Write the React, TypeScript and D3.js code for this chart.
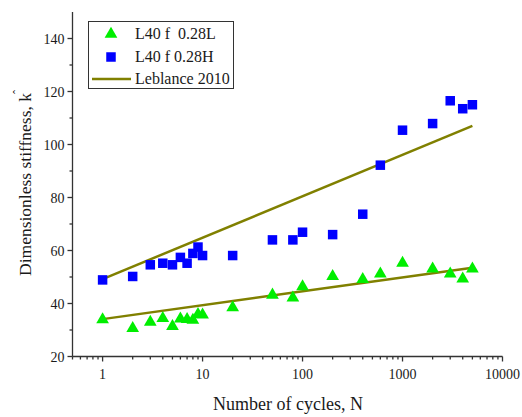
import React from "react";
import * as d3 from "d3";

// Number of cycles at which stiffness was measured
const cyclesL = [1, 2, 3, 4, 5, 6, 7, 8, 9, 10, 20, 50, 80, 100, 200, 400, 600, 1000, 2000, 3000, 4000, 5000];
const stiffnessL = [34.3, 31.0, 33.4, 34.8, 31.8, 34.6, 34.4, 34.1, 36.3, 36.1, 38.8, 43.6, 42.5, 46.8, 50.6, 49.5, 51.6, 55.6, 53.5, 51.6, 49.7, 53.5];

const cyclesH = [1, 2, 3, 4, 5, 6, 7, 8, 9, 10, 20, 50, 80, 100, 200, 400, 600, 1000, 2000, 3000, 4000, 5000];
const stiffnessH = [48.9, 50.2, 54.6, 55.2, 54.6, 57.4, 55.2, 58.9, 61.3, 58.1, 58.1, 64.0, 64.0, 66.9, 66.0, 73.7, 92.2, 105.4, 107.9, 116.5, 113.5, 115.0];

// Leblance 2010 trend lines (end points)
const leblanceN = [1, 5000];
const leblanceHigh = [49.2, 107.0];
const leblanceLow = [34.1, 53.5];

const xTickValues = [1, 10, 100, 1000, 10000];
const yTickValues = [20, 40, 60, 80, 100, 120, 140];

const legendLabels = ["L40 f  0.28L", "L40 f 0.28H", "Leblance 2010"];

const W = 522;
const H = 417;
const margin = { left: 72.5, top: 12, right: 19.5, bottom: 60.5 };

export default function App() {
  const x = d3.scaleLog().domain([0.5, 10000]).range([margin.left, W - margin.right]);
  const y = d3.scaleLinear().domain([20, 150]).range([H - margin.bottom, margin.top]);

  const x0 = margin.left;
  const y0 = H - margin.bottom;

  // minor ticks on the log axis: 2..9 within each decade
  const minorX: number[] = [];
  for (let d = 0.1; d < 10000; d *= 10) {
    for (let m = 2; m <= 9; m++) {
      const v = m * d;
      if (v >= 0.5 && v <= 10000 && !xTickValues.includes(v)) minorX.push(v);
    }
  }
  const minorY = d3.range(30, 150, 20);

  const line = d3
    .line<[number, number]>()
    .x((d) => x(d[0]))
    .y((d) => y(d[1]));

  const highLine = leblanceN.map((n, i) => [n, leblanceHigh[i]] as [number, number]);
  const lowLine = leblanceN.map((n, i) => [n, leblanceLow[i]] as [number, number]);

  const tri = d3.symbol().type(d3.symbolTriangle).size(70);
  const sq = 9.5;
  const font = "'Liberation Serif', 'Times New Roman', serif";

  return (
    <svg width={W} height={H} style={{ position: "absolute", left: 0, top: 0 }} fontFamily={font}>
      <rect x={0} y={0} width={W} height={H} fill="#fff" />

      {/* trend lines */}
      <path d={line(highLine) || ""} fill="none" stroke="#808000" strokeWidth={2.5} />
      <path d={line(lowLine) || ""} fill="none" stroke="#808000" strokeWidth={2.5} />

      {/* low-amplitude series */}
      {cyclesL.map((n, i) => (
        <path
          key={"l" + i}
          d={tri() || ""}
          transform={`translate(${x(n)},${y(stiffnessL[i]) + 1})`}
          fill="#00ee00"
        />
      ))}

      {/* high-amplitude series */}
      {cyclesH.map((n, i) => (
        <rect
          key={"h" + i}
          x={x(n) - sq / 2}
          y={y(stiffnessH[i]) - sq / 2}
          width={sq}
          height={sq}
          fill="#0000ff"
        />
      ))}

      {/* axes */}
      <g stroke="#333" strokeWidth={1.3}>
        <line x1={x0} y1={margin.top} x2={x0} y2={y0} />
        <line x1={x0} y1={y0} x2={W - margin.right} y2={y0} />
        {xTickValues.map((v) => (
          <line key={"xt" + v} x1={x(v)} x2={x(v)} y1={y0} y2={y0 + 5} />
        ))}
        {minorX.map((v) => (
          <line key={"xm" + v} x1={x(v)} x2={x(v)} y1={y0} y2={y0 + 3} />
        ))}
        {yTickValues.map((v) => (
          <line key={"yt" + v} x1={x0 - 5} x2={x0} y1={y(v)} y2={y(v)} />
        ))}
        {minorY.map((v) => (
          <line key={"ym" + v} x1={x0 - 3} x2={x0} y1={y(v)} y2={y(v)} />
        ))}
      </g>

      <g fontSize={14} fill="#1a1a1a">
        {xTickValues.map((v) => (
          <text key={"xl" + v} x={x(v)} y={y0 + 22} textAnchor="middle">
            {v}
          </text>
        ))}
        {yTickValues.map((v) => (
          <text key={"yl" + v} x={x0 - 8} y={y(v) + 5} textAnchor="end">
            {v}
          </text>
        ))}
      </g>

      {/* axis titles */}
      <text x={288} y={410} textAnchor="middle" fontSize={18} fill="#1a1a1a">
        Number of cycles, N
      </text>
      <g transform="translate(31,183) rotate(-90)">
        <text x={0} y={0} textAnchor="middle" fontSize={17.5} fill="#1a1a1a">
          Dimensionless stiffness, k
          <tspan dx={-1} dy={-9} fontSize={12}>
            ˆ
          </tspan>
        </text>
      </g>

      {/* legend */}
      <g>
        <rect x={88.5} y={21.5} width={145} height={67} fill="#fff" stroke="#333" strokeWidth={1} />
        <path d={tri() || ""} transform="translate(111,34)" fill="#00ee00" />
        <rect x={111 - sq / 2} y={57 - sq / 2} width={sq} height={sq} fill="#0000ff" />
        <line x1={92} x2={131} y1={79} y2={79} stroke="#808000" strokeWidth={2.5} />
        <g fontSize={16} fill="#1a1a1a" style={{ whiteSpace: "pre" }}>
          <text x={135} y={39} xmlSpace="preserve">{legendLabels[0]}</text>
          <text x={135} y={62}>{legendLabels[1]}</text>
          <text x={135} y={84}>{legendLabels[2]}</text>
        </g>
      </g>
    </svg>
  );
}
